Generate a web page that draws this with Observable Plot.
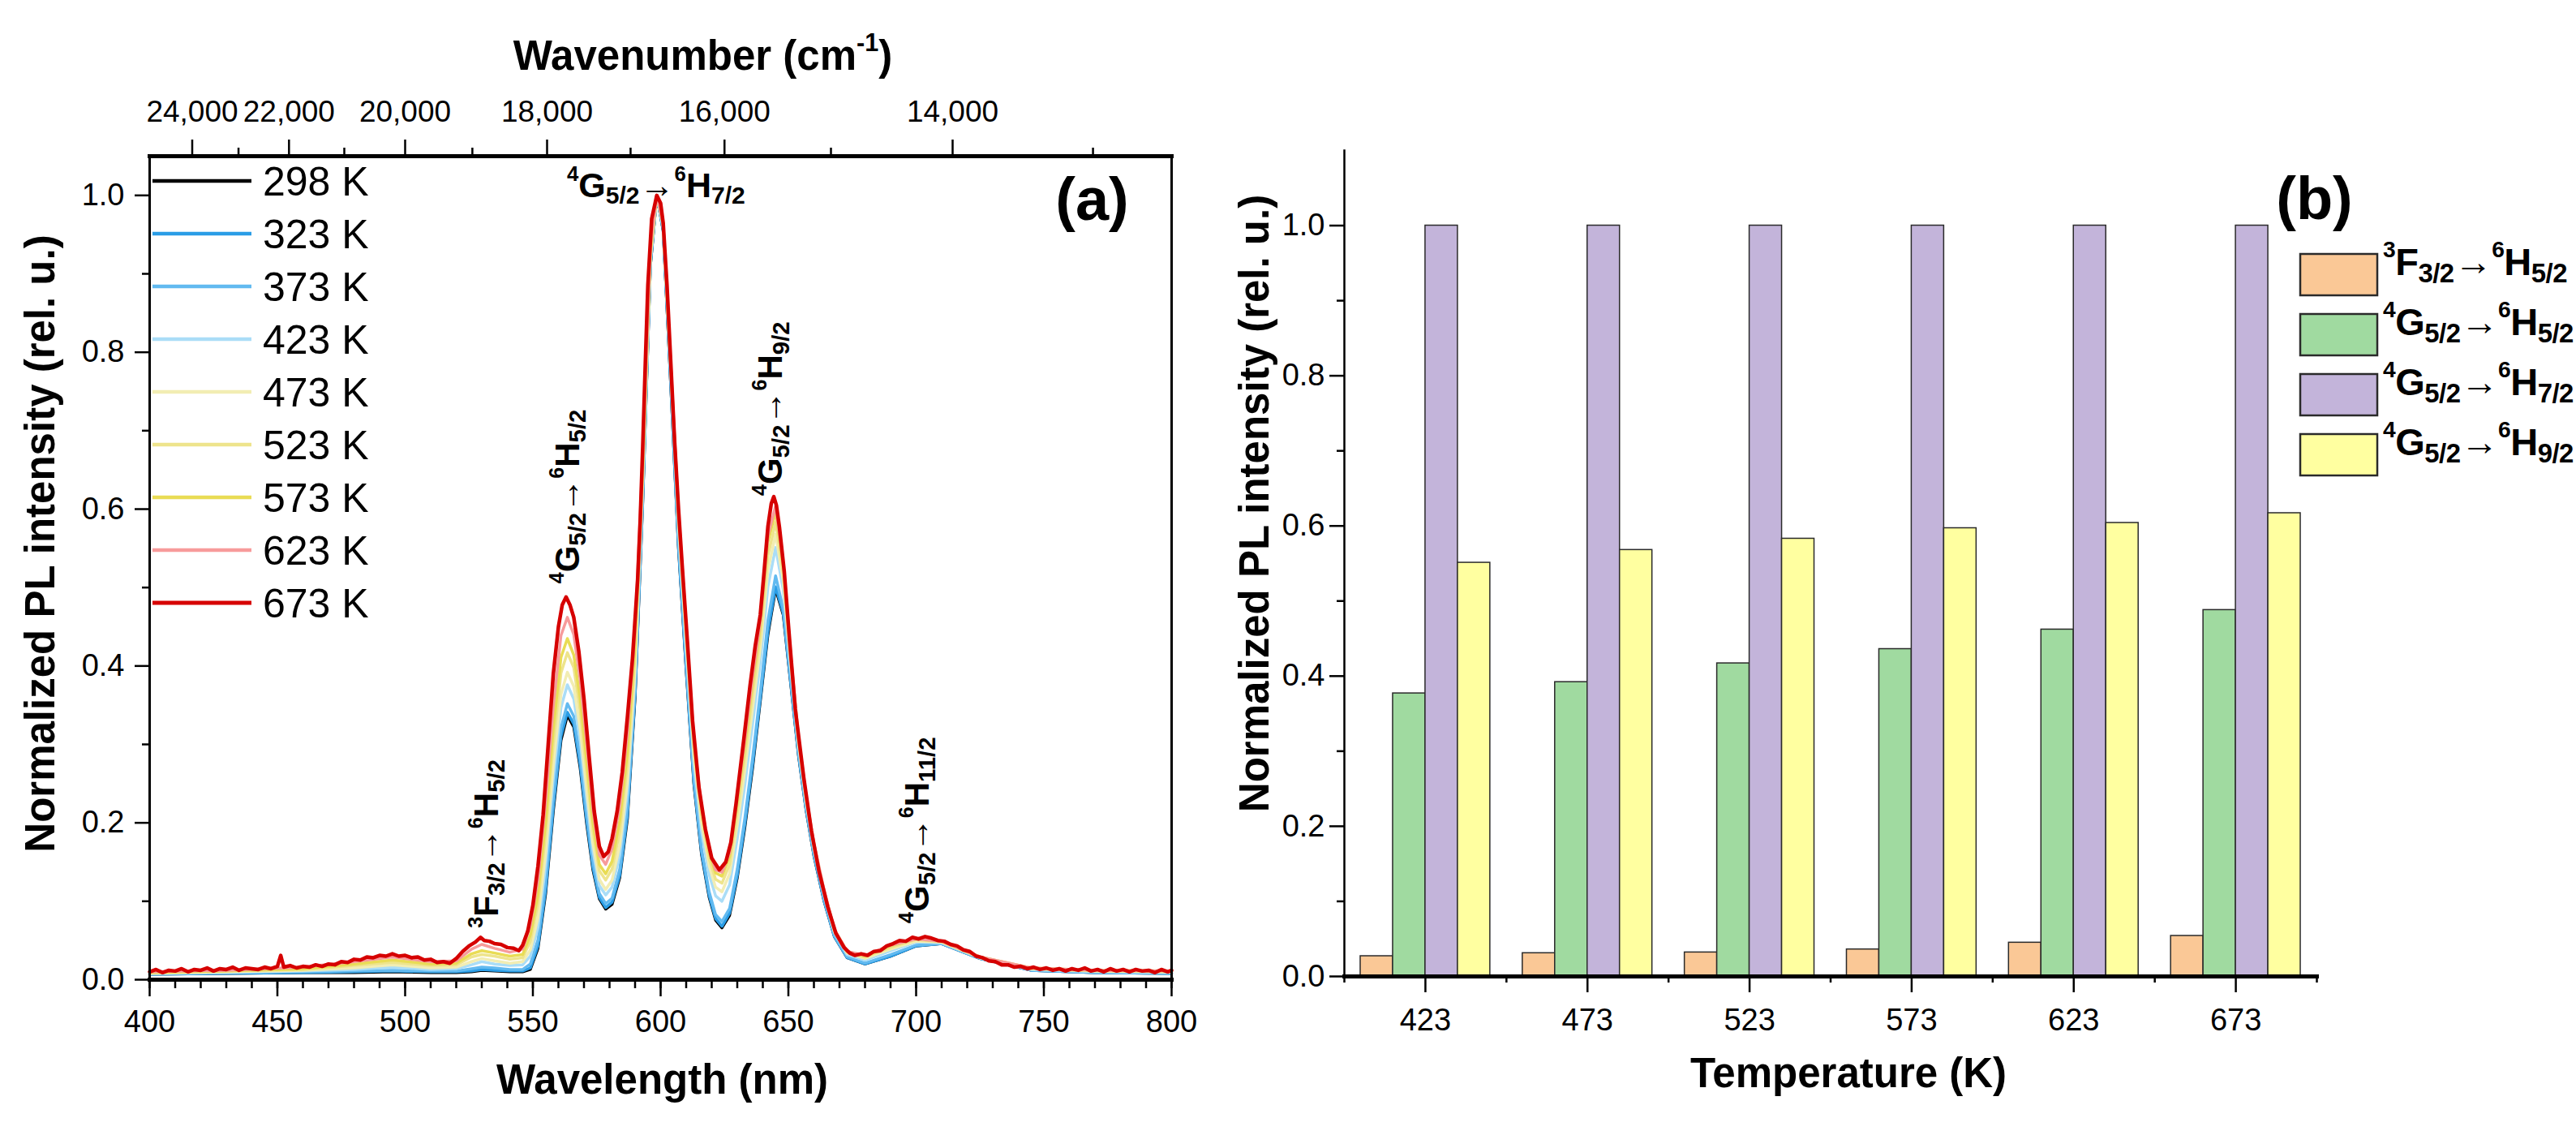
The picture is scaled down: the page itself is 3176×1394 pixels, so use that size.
<!DOCTYPE html>
<html><head><meta charset="utf-8">
<script src="https://cdn.jsdelivr.net/npm/d3@7"></script>
<script src="https://cdn.jsdelivr.net/npm/@observablehq/plot@0.6"></script>
<style>
body{margin:0;background:#fff;}
#root{position:relative;width:3176px;height:1394px;overflow:hidden;background:#fff;}
#root svg{position:absolute;top:0;max-width:none;}
</style></head><body><div id="root"></div>
<script>
// ---------------- DATA ----------------
const temps = ["298 K","323 K","373 K","423 K","473 K","523 K","573 K","623 K","673 K"];
const tempColors = ["#000000","#2A9DE6","#62BAF0","#AADDF7","#F2EDB3","#EEE48C","#E9DC55","#F79B9B","#D60000"];

// shared wavelength grid (nm) for 298-623 K spectra
const wlGrid = [400,430,460,480,495,510,520,526,530,535,541,546,549,552,555,558,561,563.5,566,568.5,571,573.5,576,578.5,581,584,587,590,593,596,598.5,601,604,607,610,613,616,619,621.5,624,627,630,633,636,639,642,645,648,651,654,657,660,664,668,673,680,690,700,710,725,745,770,800];
const int298 = [.007,.008,.009,.009,.010,.009,.009,.010,.012,.011,.010,.010,.013,.040,.110,.215,.305,.337,.322,.270,.200,.140,.103,.090,.096,.130,.205,.360,.610,.910,1.000,.955,.755,.550,.395,.250,.160,.105,.076,.066,.082,.130,.195,.270,.355,.440,.498,.465,.375,.285,.215,.158,.100,.055,.028,.020,.030,.043,.046,.027,.012,.009,.008];
const int323 = [.007,.008,.009,.010,.011,.010,.010,.011,.013,.012,.011,.011,.015,.043,.114,.220,.310,.341,.326,.274,.204,.143,.105,.092,.099,.133,.209,.363,.612,.911,1.000,.955,.756,.552,.397,.252,.162,.107,.078,.068,.085,.133,.199,.274,.358,.444,.501,.467,.376,.286,.216,.159,.100,.055,.028,.020,.030,.043,.046,.027,.012,.009,.008];
const int373 = [.007,.009,.010,.011,.012,.011,.011,.014,.016,.015,.013,.013,.020,.051,.124,.231,.321,.352,.336,.284,.212,.149,.110,.097,.104,.141,.218,.370,.617,.913,1.000,.956,.758,.555,.401,.256,.167,.112,.083,.074,.091,.141,.207,.283,.366,.458,.515,.472,.379,.288,.217,.160,.102,.056,.029,.021,.032,.044,.046,.027,.012,.009,.008];
const int423 = [.008,.009,.011,.013,.016,.013,.014,.019,.023,.020,.018,.019,.030,.067,.146,.257,.347,.376,.358,.305,.232,.164,.120,.108,.118,.159,.239,.386,.628,.918,1.000,.960,.769,.573,.422,.277,.189,.134,.107,.100,.121,.180,.249,.326,.405,.501,.551,.497,.393,.296,.224,.166,.107,.060,.032,.025,.037,.048,.047,.028,.013,.010,.009];
const int473 = [.008,.010,.012,.015,.019,.015,.016,.023,.027,.024,.021,.023,.038,.079,.162,.274,.364,.392,.374,.320,.245,.174,.128,.115,.127,.171,.253,.397,.636,.921,1.000,.961,.773,.581,.432,.287,.200,.145,.118,.112,.135,.197,.268,.346,.422,.522,.568,.508,.399,.300,.227,.168,.109,.061,.034,.027,.039,.049,.048,.028,.014,.011,.010];
const int523 = [.009,.011,.013,.018,.022,.018,.019,.029,.032,.030,.026,.028,.049,.097,.186,.301,.391,.417,.398,.343,.266,.190,.139,.127,.141,.189,.275,.414,.648,.926,1.000,.963,.778,.588,.440,.295,.209,.154,.128,.123,.147,.213,.285,.364,.438,.541,.583,.518,.405,.304,.230,.171,.111,.063,.035,.029,.041,.051,.048,.029,.014,.011,.010];
const int573 = [.009,.011,.014,.020,.025,.020,.021,.033,.037,.034,.030,.032,.057,.109,.202,.321,.411,.435,.414,.359,.281,.201,.147,.135,.151,.203,.291,.426,.656,.930,1.000,.964,.781,.594,.447,.302,.217,.162,.136,.132,.157,.226,.299,.379,.451,.558,.597,.526,.410,.307,.232,.173,.113,.064,.036,.030,.043,.052,.049,.029,.015,.012,.011];
const int623 = [.010,.012,.016,.023,.029,.023,.024,.039,.045,.040,.035,.039,.069,.128,.228,.349,.439,.462,.440,.383,.303,.217,.159,.147,.167,.222,.314,.444,.669,.935,1.000,.964,.783,.597,.451,.306,.221,.166,.140,.137,.162,.232,.307,.386,.457,.566,.604,.530,.412,.308,.234,.174,.114,.064,.036,.031,.044,.052,.049,.029,.015,.012,.011];

// 673 K spectrum (denser, noisy trace)
const wl673 = [400,402.5,405,407.5,410,412.5,415,417.5,420,422.5,425,427.5,430,432.5,435,437.5,440,442.5,445,447.5,450,451.3,452.5,455,457.5,460,462.5,465,467.5,470,472.5,475,477.5,480,482.5,485,487.5,490,492.5,495,497.5,500,502.5,505,507.5,510,512.5,515,517.5,520,522.5,525,527.5,529.5,531,533,535,537.5,540,542.5,544.5,546,548,550,552,554,556,558,560,561.5,563,564.5,566,568,570,572,574,576,577.7,579.5,581,583,585,587,589,591,592,593,594,595,596.5,598.5,600,601,602.5,604,605.5,607,608.5,610.5,612.5,615,617.5,620,623,625.5,627.5,629.5,632.5,635,637,639,640.5,642,643.3,644.3,645.3,646.5,648.4,650.5,652.7,656,659,662,665.4,668.6,671.8,674,676,678.5,681,683.5,686,688.5,691,693.5,696,698.5,701,703.5,706,708.5,711,713.5,716,718.5,721,723.5,726,728.5,731,733.5,736,738.5,741,743.5,746,748.5,751,753.5,756,758.5,761,763.5,766,768.5,771,773.5,776,778.5,781,783.5,786,788.5,791,793.5,796,798.5,800];
const int673 = [.010,.013,.009,.012,.011,.014,.010,.013,.012,.015,.011,.014,.013,.016,.012,.015,.014,.013,.016,.014,.017,.031,.016,.018,.015,.017,.016,.019,.017,.020,.019,.023,.022,.026,.025,.029,.028,.031,.030,.033,.030,.031,.028,.029,.025,.026,.022,.023,.021,.027,.036,.043,.048,.054,.050,.049,.046,.045,.041,.040,.037,.044,.062,.095,.145,.210,.300,.390,.450,.478,.488,.478,.462,.418,.358,.285,.215,.170,.157,.163,.180,.215,.265,.335,.410,.510,.585,.680,.785,.885,.970,1.000,.990,.965,.885,.785,.685,.600,.525,.430,.330,.245,.192,.155,.140,.150,.175,.224,.305,.375,.425,.465,.520,.578,.607,.616,.605,.577,.520,.432,.345,.258,.190,.138,.093,.059,.041,.034,.031,.033,.031,.036,.037,.043,.046,.050,.049,.054,.052,.055,.053,.050,.049,.045,.043,.038,.036,.030,.028,.024,.023,.019,.019,.016,.017,.014,.016,.013,.015,.012,.014,.011,.014,.012,.015,.011,.013,.010,.014,.011,.013,.010,.013,.011,.012,.009,.013,.010,.012];

// axis ticks
const wavelengthMajor = [400,450,500,550,600,650,700,750,800];
const wavenumberMajor = [24000,22000,20000,18000,16000,14000];
const wavenumberMinor = [23000,21000,19000,17000,15000,13000];
const yMajor = [0,0.2,0.4,0.6,0.8,1.0];
const yMinor = [0.1,0.3,0.5,0.7,0.9];

// transition annotations
const annoLabels = ["^{3}F_{3/2}→^{6}H_{5/2}","^{4}G_{5/2}→^{6}H_{5/2}","^{4}G_{5/2}→^{6}H_{9/2}","^{4}G_{5/2}→^{6}H_{11/2}"];
const annoWl = [532, 563.8, 643.3, 700.5];
const annoInt = [0.066, 0.505, 0.617, 0.072];
const topAnnoLabel = "^{4}G_{5/2}→^{6}H_{7/2}";
const topAnnoWl = 598.2, topAnnoInt = 1.0;

// panel (b)
const barTemps = [423,473,523,573,623,673];
const barSeries = ["^{3}F_{3/2}→^{6}H_{5/2}","^{4}G_{5/2}→^{6}H_{5/2}","^{4}G_{5/2}→^{6}H_{7/2}","^{4}G_{5/2}→^{6}H_{9/2}"];
const barColors = ["#FAC896","#A0DAA0","#C3B4DA","#FFFFA0"];
const barF35 = [0.027,0.031,0.032,0.036,0.045,0.054];
const barG55 = [0.377,0.392,0.417,0.436,0.462,0.488];
const barG57 = [1.000,1.000,1.000,1.000,1.000,1.000];
const barG59 = [0.551,0.568,0.583,0.597,0.604,0.617];

// ---------------- BUILD ----------------
const FONT = "'Liberation Sans', Arial, Helvetica, sans-serif";
const H = 1394;
const root = document.getElementById("root");

const seriesVals = [int298,int323,int373,int423,int473,int523,int573,int623,int673];
const spectra = seriesVals.map((vals,k) => {
  const wl = k === 8 ? wl673 : wlGrid;
  return wl.map((w,i) => ({wl: w, v: vals[i], temp: temps[k]}));
});

const WA = 1560;
const plotA = Plot.plot({
  width: WA, height: H,
  marginLeft: 184, marginRight: WA - 1444, marginTop: 192, marginBottom: H - 1207,
  x: {domain: [400, 800]},
  y: {domain: [0, 1.05]},
  style: {fontFamily: FONT, fontSize: "38px", color: "#000", background: "transparent", overflow: "visible"},
  marks: [
    ...spectra.map((rows,k) => Plot.line(rows, {x: "wl", y: "v", stroke: tempColors[k], strokeWidth: k === 8 ? 4.5 : 3.5, strokeLinejoin: "round"})),
    Plot.frame({anchor: "top", strokeWidth: 5}),
    Plot.frame({anchor: "bottom", strokeWidth: 5}),
    Plot.frame({anchor: "left", strokeWidth: 3}),
    Plot.frame({anchor: "right", strokeWidth: 3}),
    Plot.axisX({anchor: "bottom", ticks: wavelengthMajor, tickSize: 21, tickPadding: 17, strokeWidth: 2.5, tickFormat: d => String(d), label: null, fontSize: 38}),
    Plot.axisX({anchor: "bottom", ticks: d3.range(400, 801, 10), tickSize: 11, strokeWidth: 2.5, tickFormat: () => "", label: null}),
    Plot.axisX({anchor: "top", ticks: wavenumberMajor.map(w => 1e7 / w), tickSize: 21, tickPadding: 22, strokeWidth: 2.5, tickFormat: d => d3.format(",")(Math.round(1e7 / d)), label: null, fontSize: 37}),
    Plot.axisX({anchor: "top", ticks: wavenumberMinor.map(w => 1e7 / w), tickSize: 11, strokeWidth: 2.5, tickFormat: () => "", label: null}),
    Plot.axisY({anchor: "left", ticks: yMajor, tickSize: 18, tickPadding: 13, strokeWidth: 2.5, tickFormat: d3.format(".1f"), label: null, fontSize: 38}),
    Plot.axisY({anchor: "left", ticks: yMinor, tickSize: 9, strokeWidth: 2.5, tickFormat: () => "", label: null}),
    Plot.text(["Wavelength (nm)"], {frameAnchor: "bottom", dy: 124, dx: 2, fontSize: 51, fontWeight: "bold", lineAnchor: "middle", textAnchor: "middle"}),
    Plot.text(["Wavenumber (cm^{-1})"], {frameAnchor: "top", dy: -123, dx: 52, fontSize: 51, fontWeight: "bold", lineAnchor: "middle", textAnchor: "middle"}),
    Plot.text(["Normalized PL intensity (rel. u.)"], {frameAnchor: "left", rotate: -90, dx: -134, dy: -30, fontSize: 51, fontWeight: "bold", lineAnchor: "middle", textAnchor: "middle"}),
    Plot.text(annoLabels.map((t,i) => ({t, x: annoWl[i], y: annoInt[i]})), {x: "x", y: "y", text: "t", rotate: -90, textAnchor: "start", lineAnchor: "middle", fontSize: 42, fontWeight: "bold"}),
    Plot.text([{t: topAnnoLabel, x: topAnnoWl, y: topAnnoInt}], {x: "x", y: "y", text: "t", textAnchor: "middle", lineAnchor: "bottom", dy: 2, fontSize: 43, fontWeight: "bold"}),
    Plot.text(["(a)"], {frameAnchor: "top-right", dx: -98, dy: 55, textAnchor: "middle", lineAnchor: "middle", fontSize: 74, fontWeight: "bold"})
  ]
});
plotA.style.left = "0px";
root.appendChild(plotA);

// panel (b)
const LB = 1560, WB = 3176 - 1560;
const barSets = [barF35, barG55, barG57, barG59];
const barMarks = barSets.map((vals, k) => Plot.rectY(
  barTemps.map((t, i) => ({i, v: vals[i]})),
  {x1: d => d.i + 0.1 + 0.2 * k, x2: d => d.i + 0.3 + 0.2 * k, y1: 0, y2: "v", fill: barColors[k], stroke: "#2a2a2a", strokeWidth: 1.5}
));
const plotB = Plot.plot({
  width: WB, height: H,
  marginLeft: 1657 - LB, marginRight: WB - (2856 - LB), marginTop: 185, marginBottom: H - 1203,
  x: {domain: [0, barTemps.length]},
  y: {domain: [0, 1.1]},
  style: {fontFamily: FONT, fontSize: "38px", color: "#000", background: "transparent", overflow: "visible"},
  marks: [
    ...barMarks,
    Plot.frame({anchor: "bottom", strokeWidth: 5}),
    Plot.frame({anchor: "left", strokeWidth: 2.5}),
    Plot.axisX({anchor: "bottom", ticks: barTemps.map((t, i) => i + 0.5), tickSize: 20, tickPadding: 20, strokeWidth: 2.5, tickFormat: d => String(barTemps[Math.floor(d)]), label: null, fontSize: 38}),
    Plot.axisX({anchor: "bottom", ticks: d3.range(0, barTemps.length + 1), tickSize: 8, strokeWidth: 2.5, tickFormat: () => "", label: null}),
    Plot.axisY({anchor: "left", ticks: yMajor, tickSize: 18, tickPadding: 6, strokeWidth: 2.5, tickFormat: d3.format(".1f"), label: null, fontSize: 38}),
    Plot.axisY({anchor: "left", ticks: yMinor, tickSize: 9, strokeWidth: 2.5, tickFormat: () => "", label: null}),
    Plot.text(["Temperature (K)"], {frameAnchor: "bottom", dy: 120, dx: 22, fontSize: 51, fontWeight: "bold", lineAnchor: "middle", textAnchor: "middle"}),
    Plot.text(["Normalized PL intensity (rel. u.)"], {frameAnchor: "left", rotate: -90, dx: -110, dy: -74, fontSize: 51, fontWeight: "bold", lineAnchor: "middle", textAnchor: "middle"}),
    Plot.text(["(b)"], {frameAnchor: "top-right", dx: -3, dy: 61, textAnchor: "middle", lineAnchor: "middle", fontSize: 74, fontWeight: "bold"})
  ]
});
plotB.style.left = LB + "px";
root.appendChild(plotB);

// legends overlay
const ov = d3.create("svg").attr("width", 3176).attr("height", H)
  .style("left", "0px").style("top", "0px").attr("font-family", FONT);
const la = ov.append("g");
temps.forEach((t, i) => {
  const y = 223 + 65 * i;
  la.append("line").attr("x1", 188).attr("x2", 310).attr("y1", y).attr("y2", y)
    .attr("stroke", tempColors[i]).attr("stroke-width", i === 8 ? 5 : 4.5);
  la.append("text").attr("x", 324).attr("y", y).attr("dy", "0.36em")
    .attr("font-size", 50).text(t);
});
const lb = ov.append("g");
barSeries.forEach((s, i) => {
  const y = 313 + 74 * i;
  lb.append("rect").attr("x", 2836).attr("y", y).attr("width", 95).attr("height", 51)
    .attr("fill", barColors[i]).attr("stroke", "#2a2a2a").attr("stroke-width", 2.5);
  lb.append("text").attr("x", 2938).attr("y", y + 25.5).attr("dy", "0.36em")
    .attr("font-size", 47).attr("font-weight", "bold").attr("letter-spacing", "-0.5").text(s);
});
root.appendChild(ov.node());

// rich text: ^{sup} and _{sub}
function richify(scope) {
  const ns = "http://www.w3.org/2000/svg";
  scope.querySelectorAll("text").forEach(t => {
    const s = t.textContent;
    if (!/[\^_]\{/.test(s)) return;
    const fs = parseFloat(getComputedStyle(t).fontSize) || 40;
    while (t.firstChild) t.removeChild(t.firstChild);
    const toks = s.match(/(\^\{[^}]*\}|_\{[^}]*\}|[^\^_]+)/g) || [];
    let shift = 0;
    toks.forEach(tok => {
      const ts = document.createElementNS(ns, "tspan");
      let target = 0, content = tok, size = null;
      if (tok.startsWith("^{")) { target = -0.45 * fs; content = tok.slice(2, -1); size = 0.6 * fs; }
      else if (tok.startsWith("_{")) { target = 0.2 * fs; content = tok.slice(2, -1); size = 0.7 * fs; }
      ts.setAttribute("dy", (target - shift).toFixed(2));
      shift = target;
      if (size) ts.setAttribute("font-size", size.toFixed(1));
      ts.textContent = content;
      t.appendChild(ts);
    });
  });
}
richify(root);
</script>
</body></html>
